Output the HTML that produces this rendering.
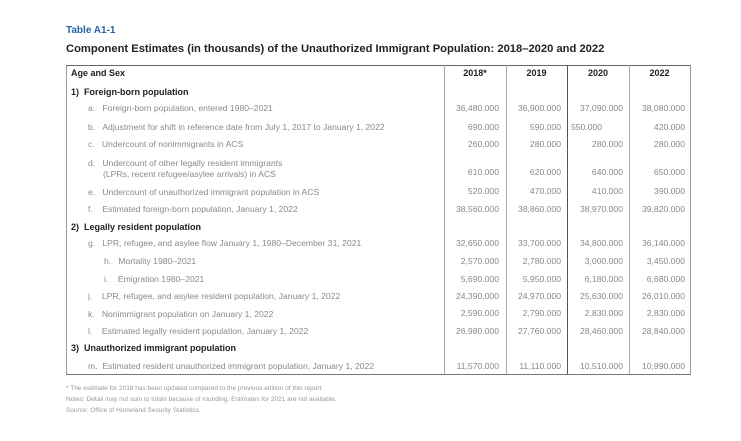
<!DOCTYPE html>
<html><head><meta charset="utf-8"><style>
body{margin:0;width:741px;height:441px;background:#fff;font-family:"Liberation Sans",sans-serif;position:relative;overflow:hidden}
div{position:absolute;white-space:nowrap}
.t{font-size:8.6px;color:#8a8a8a;line-height:12px}
.h{font-size:9px;color:#222;font-weight:bold;line-height:12px}
.n{font-size:8.6px;color:#888;line-height:12px;text-align:right;width:60px}
.v{top:65px;height:309px;width:1px;background:#aaa}
</style></head><body>
<div style="left:66px;top:25px;font-size:10px;color:#1f64a8;font-weight:bold">Table A1-1</div>
<div style="left:66px;top:43px;font-size:11.2px;color:#222;font-weight:bold">Component Estimates (in thousands) of the Unauthorized Immigrant Population: 2018–2020 and 2022</div>
<div style="left:66px;top:65px;width:623px;height:308px;border:1px solid #999;border-top:1.5px solid #666;border-bottom:1.5px solid #777"></div>
<div class="v" style="left:444px"></div>
<div class="v" style="left:506px"></div>
<div class="v" style="left:567px;background:#555"></div>
<div class="v" style="left:629px"></div>

<div class="h" style="left:71px;top:67px">Age and Sex</div>
<div class="h" style="left:444px;top:67px;width:62px;text-align:center">2018*</div>
<div class="h" style="left:506px;top:67px;width:61px;text-align:center">2019</div>
<div class="h" style="left:567px;top:67px;width:62px;text-align:center">2020</div>
<div class="h" style="left:629px;top:67px;width:61px;text-align:center">2022</div>

<div class="h" style="left:71px;top:86px">1)&nbsp;&nbsp;Foreign-born population</div>
<div class="t" style="left:88px;top:102px">a.&nbsp;&nbsp;&nbsp;Foreign-born population, entered 1980–2021</div>
<div class="t" style="left:88px;top:121px">b.&nbsp;&nbsp;&nbsp;Adjustment for shift in reference date from July 1, 2017 to January 1, 2022</div>
<div class="t" style="left:88px;top:138px">c.&nbsp;&nbsp;&nbsp;Undercount of nonimmigrants in ACS</div>
<div class="t" style="left:88px;top:157px">d.&nbsp;&nbsp;&nbsp;Undercount of other legally resident immigrants</div>
<div class="t" style="left:103px;top:168px">(LPRs, recent refugee/asylee arrivals) in ACS</div>
<div class="t" style="left:88px;top:186px">e.&nbsp;&nbsp;&nbsp;Undercount of unauthorized immigrant population in ACS</div>
<div class="t" style="left:88px;top:203px">f.&nbsp;&nbsp;&nbsp;&nbsp;Estimated foreign-born population, January 1, 2022</div>
<div class="h" style="left:71px;top:221px">2)&nbsp;&nbsp;Legally resident population</div>
<div class="t" style="left:88px;top:237px">g.&nbsp;&nbsp;&nbsp;LPR, refugee, and asylee flow January 1, 1980–December 31, 2021</div>
<div class="t" style="left:104px;top:255px">h.&nbsp;&nbsp;&nbsp;Mortality 1980–2021</div>
<div class="t" style="left:104px;top:273px">i.&nbsp;&nbsp;&nbsp;&nbsp;Emigration 1980–2021</div>
<div class="t" style="left:88px;top:290px">j.&nbsp;&nbsp;&nbsp;&nbsp;LPR, refugee, and asylee resident population, January 1, 2022</div>
<div class="t" style="left:88px;top:308px">k.&nbsp;&nbsp;&nbsp;Nonimmigrant population on January 1, 2022</div>
<div class="t" style="left:88px;top:325px">l.&nbsp;&nbsp;&nbsp;&nbsp;Estimated legally resident population, January 1, 2022</div>
<div class="h" style="left:71px;top:342px">3)&nbsp;&nbsp;Unauthorized immigrant population</div>
<div class="t" style="left:88px;top:360px">m.&nbsp;&nbsp;Estimated resident unauthorized immigrant population, January 1, 2022</div>

<div class="n" style="left:439px;top:102px">36,480.000</div><div class="n" style="left:501px;top:102px">36,900.000</div><div class="n" style="left:563px;top:102px">37,090.000</div><div class="n" style="left:625px;top:102px">38,080.000</div>
<div class="n" style="left:439px;top:121px">690.000</div><div class="n" style="left:501px;top:121px">590.000</div><div class="n" style="left:571px;top:121px;text-align:left">550.000</div><div class="n" style="left:625px;top:121px">420.000</div>
<div class="n" style="left:439px;top:138px">260.000</div><div class="n" style="left:501px;top:138px">280.000</div><div class="n" style="left:563px;top:138px">280.000</div><div class="n" style="left:625px;top:138px">280.000</div>
<div class="n" style="left:439px;top:166px">610.000</div><div class="n" style="left:501px;top:166px">620.000</div><div class="n" style="left:563px;top:166px">640.000</div><div class="n" style="left:625px;top:166px">650.000</div>
<div class="n" style="left:439px;top:185px">520.000</div><div class="n" style="left:501px;top:185px">470.000</div><div class="n" style="left:563px;top:185px">410.000</div><div class="n" style="left:625px;top:185px">390.000</div>
<div class="n" style="left:439px;top:203px">38,560.000</div><div class="n" style="left:501px;top:203px">38,860.000</div><div class="n" style="left:563px;top:203px">38,970.000</div><div class="n" style="left:625px;top:203px">39,820.000</div>
<div class="n" style="left:439px;top:237px">32,650.000</div><div class="n" style="left:501px;top:237px">33,700.000</div><div class="n" style="left:563px;top:237px">34,800.000</div><div class="n" style="left:625px;top:237px">36,140.000</div>
<div class="n" style="left:439px;top:255px">2,570.000</div><div class="n" style="left:501px;top:255px">2,780.000</div><div class="n" style="left:563px;top:255px">3,000.000</div><div class="n" style="left:625px;top:255px">3,450.000</div>
<div class="n" style="left:439px;top:273px">5,690.000</div><div class="n" style="left:501px;top:273px">5,950.000</div><div class="n" style="left:563px;top:273px">6,180.000</div><div class="n" style="left:625px;top:273px">6,680.000</div>
<div class="n" style="left:439px;top:290px">24,390.000</div><div class="n" style="left:501px;top:290px">24,970.000</div><div class="n" style="left:563px;top:290px">25,630.000</div><div class="n" style="left:625px;top:290px">26,010.000</div>
<div class="n" style="left:439px;top:307px">2,590.000</div><div class="n" style="left:501px;top:307px">2,790.000</div><div class="n" style="left:563px;top:307px">2,830.000</div><div class="n" style="left:625px;top:307px">2,830.000</div>
<div class="n" style="left:439px;top:325px">26,980.000</div><div class="n" style="left:501px;top:325px">27,760.000</div><div class="n" style="left:563px;top:325px">28,460.000</div><div class="n" style="left:625px;top:325px">28,840.000</div>
<div class="n" style="left:439px;top:360px">11,570.000</div><div class="n" style="left:501px;top:360px">11,110.000</div><div class="n" style="left:563px;top:360px">10,510.000</div><div class="n" style="left:625px;top:360px">10,990.000</div>

<div style="left:66px;top:385px;font-size:6.5px;color:#999">* The estimate for 2018 has been updated compared to the previous edition of this report.</div>
<div style="left:66px;top:396px;font-size:6.5px;color:#999">Notes: Detail may not sum to totals because of rounding. Estimates for 2021 are not available.</div>
<div style="left:66px;top:407px;font-size:6.5px;color:#999">Source: Office of Homeland Security Statistics.</div>
</body></html>
